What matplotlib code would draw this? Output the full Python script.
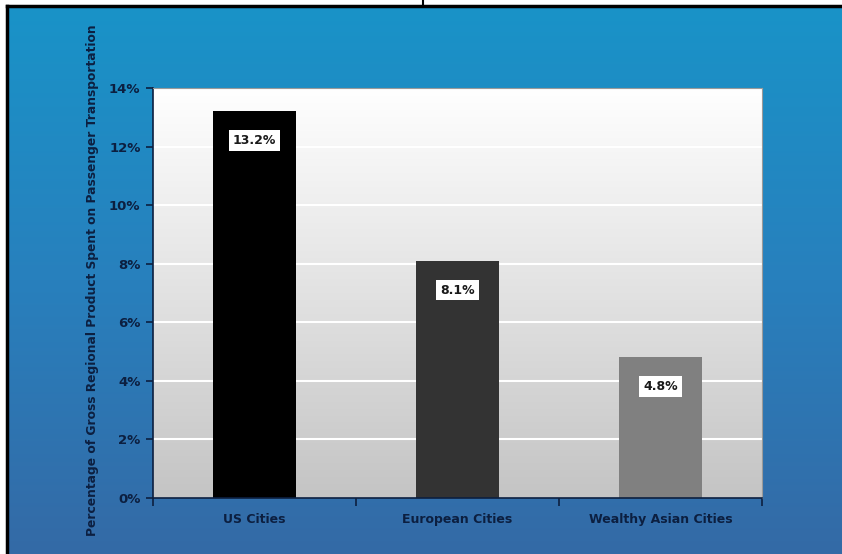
import numpy as np
import matplotlib
matplotlib.use("Agg")
import matplotlib.pyplot as plt
from matplotlib.colors import LinearSegmentedColormap

categories = ["US Cities", "European Cities", "Wealthy Asian Cities"]
values = [13.2, 8.1, 4.8]
bar_colors = ["#000000", "#333333", "#808080"]
yticks = [0, 2, 4, 6, 8, 10, 12, 14]
ylabel = "Percentage of Gross Regional Product Spent on Passenger Transportation"

W, H = 842, 554
navy = "#0c1f40"

fig = plt.figure(figsize=(W / 100, H / 100), dpi=100)
fig.patch.set_facecolor("white")

# blue gradient panel
bg = fig.add_axes([7 / W, 0, 1 - 7 / W, 1 - 6 / H], zorder=0)
blue = LinearSegmentedColormap.from_list("bg", ["#346aa6", "#2880bd", "#1993c8"])
grad = np.linspace(0, 1, 256).reshape(-1, 1)
bg.imshow(grad, cmap=blue, aspect="auto", origin="lower", extent=[0, 1, 0, 1])
bg.set_xlim(0, 1)
bg.set_ylim(0, 1)
bg.axis("off")

# black border top/left and the small tick at the top
fig.add_artist(plt.Line2D([7 / W, 1], [1 - 6 / H, 1 - 6 / H], color="black", lw=2.5, transform=fig.transFigure))
fig.add_artist(plt.Line2D([7 / W, 7 / W], [0, 1 - 6 / H], color="black", lw=2.5, transform=fig.transFigure))
fig.add_artist(plt.Line2D([423 / W, 423 / W], [1 - 6 / H, 1], color="black", lw=1.5, transform=fig.transFigure))

ax = fig.add_axes([153 / W, 56 / H, 609 / W, 410 / H], zorder=1)
x = np.arange(len(categories))

plot_cm = LinearSegmentedColormap.from_list("pa", ["#c4c4c4", "#e2e2e2", "#ffffff"])
ax.imshow(grad, cmap=plot_cm, aspect="auto", origin="lower", extent=[-0.5, 2.5, 0, 14], zorder=0)

for yv in yticks[1:-1]:
    ax.axhline(yv, color="white", lw=1.5, zorder=1)

ax.bar(x, values, width=0.41, color=bar_colors, zorder=2)

for xi, v in zip(x, values):
    ax.text(xi, v - 1.0, f"{v:.1f}%", ha="center", va="center", fontsize=9, fontweight="bold",
            color="#1a1a1a", zorder=3,
            bbox=dict(boxstyle="square,pad=0.3", facecolor="white", edgecolor="none"))

ax.set_xlim(-0.5, 2.5)
ax.set_ylim(0, 14)
ax.set_yticks(yticks)
ax.set_yticklabels([f"{t}%" for t in yticks], fontsize=9.5, fontweight="bold", color=navy)
ax.set_xticks([-0.5, 0.5, 1.5, 2.5])
ax.set_xticklabels([])
ax.set_xticks(x, minor=True)
ax.set_xticklabels(categories, minor=True, fontsize=9, fontweight="bold", color=navy)
ax.tick_params(axis="x", which="major", direction="out", length=6, width=1.2, color=navy)
ax.tick_params(axis="x", which="minor", length=0, pad=11)
ax.tick_params(axis="y", direction="out", length=5, width=1.2, color=navy, pad=4)

for s in ["left", "bottom"]:
    ax.spines[s].set_color(navy)
    ax.spines[s].set_linewidth(1.2)
for s in ["top", "right"]:
    ax.spines[s].set_color("#9a9a9a")
    ax.spines[s].set_linewidth(0.8)

fig.text(93 / W, 1 - 280 / H, ylabel, rotation=90, ha="center", va="center",
         fontsize=8.8, fontweight="bold", color=navy)

fig.savefig("out.png", dpi=100)
